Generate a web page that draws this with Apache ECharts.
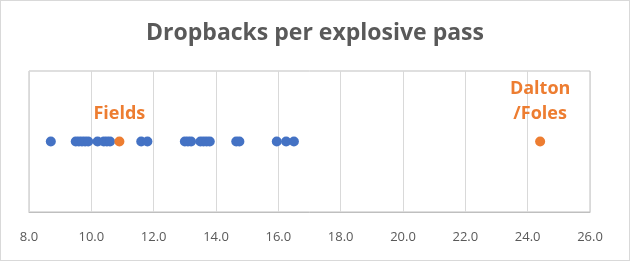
<!DOCTYPE html>
<html>
<head>
<meta charset="utf-8">
<script src="https://cdn.jsdelivr.net/npm/echarts@6/dist/echarts.min.js"></script>
<style>
html,body{margin:0;padding:0;background:#fff;}
#c{width:630px;height:261px;box-sizing:border-box;border:1px solid #d9d9d9;}
</style>
</head>
<body>
<div id="c"></div>
<script>
const blueValues = [8.7, 9.5, 9.6, 9.7, 9.8, 9.9, 10.2, 10.4, 10.5, 10.6, 11.6, 11.8, 13.0, 13.1, 13.2, 13.5, 13.6, 13.7, 13.8, 14.65, 14.75, 15.95, 16.25, 16.5];
const highlighted = [
  {name: 'Fields', value: 10.9},
  {name: 'Dalton\n/Foles', value: 24.4}
];
const xTicks = [8, 10, 12, 14, 16, 18, 20, 22, 24, 26];

const chart = echarts.init(document.getElementById('c'));
chart.setOption({
  animation: false,
  title: {
    text: 'Dropbacks per explosive pass',
    left: 'center', top: 16,
    textStyle: {fontFamily: 'Open Sans', fontWeight: 'bold', fontSize: 23, color: '#595959'}
  },
  grid: {left: 28, right: 39, top: 70, bottom: 48, show: true, borderColor: '#BFBFBF', borderWidth: 1},
  xAxis: {
    type: 'value', min: xTicks[0], max: xTicks[xTicks.length - 1], interval: 2,
    axisLine: {show: true, lineStyle: {color: '#BFBFBF'}},
    axisTick: {show: false},
    splitLine: {show: true, lineStyle: {color: '#D9D9D9'}},
    axisLabel: {formatter: v => v.toFixed(1), color: '#595959', fontSize: 13, fontFamily: 'Open Sans', margin: 19}
  },
  yAxis: {type: 'value', min: 0, max: 2, show: false},
  series: [
    {
      type: 'scatter', symbolSize: 10,
      itemStyle: {color: '#4472C4', opacity: 1},
      data: blueValues.map(v => [v, 1])
    },
    {
      type: 'scatter', symbolSize: 10,
      itemStyle: {color: '#ED7D31', opacity: 1},
      data: highlighted.map(d => ({name: d.name, value: [d.value, 1]})),
      label: {
        show: true, position: 'top', distance: 10,
        formatter: p => p.name,
        color: '#ED7D31', fontWeight: 'bold', fontSize: 18, fontFamily: 'Open Sans', lineHeight: 25
      }
    }
  ]
});
</script>
</body>
</html>
